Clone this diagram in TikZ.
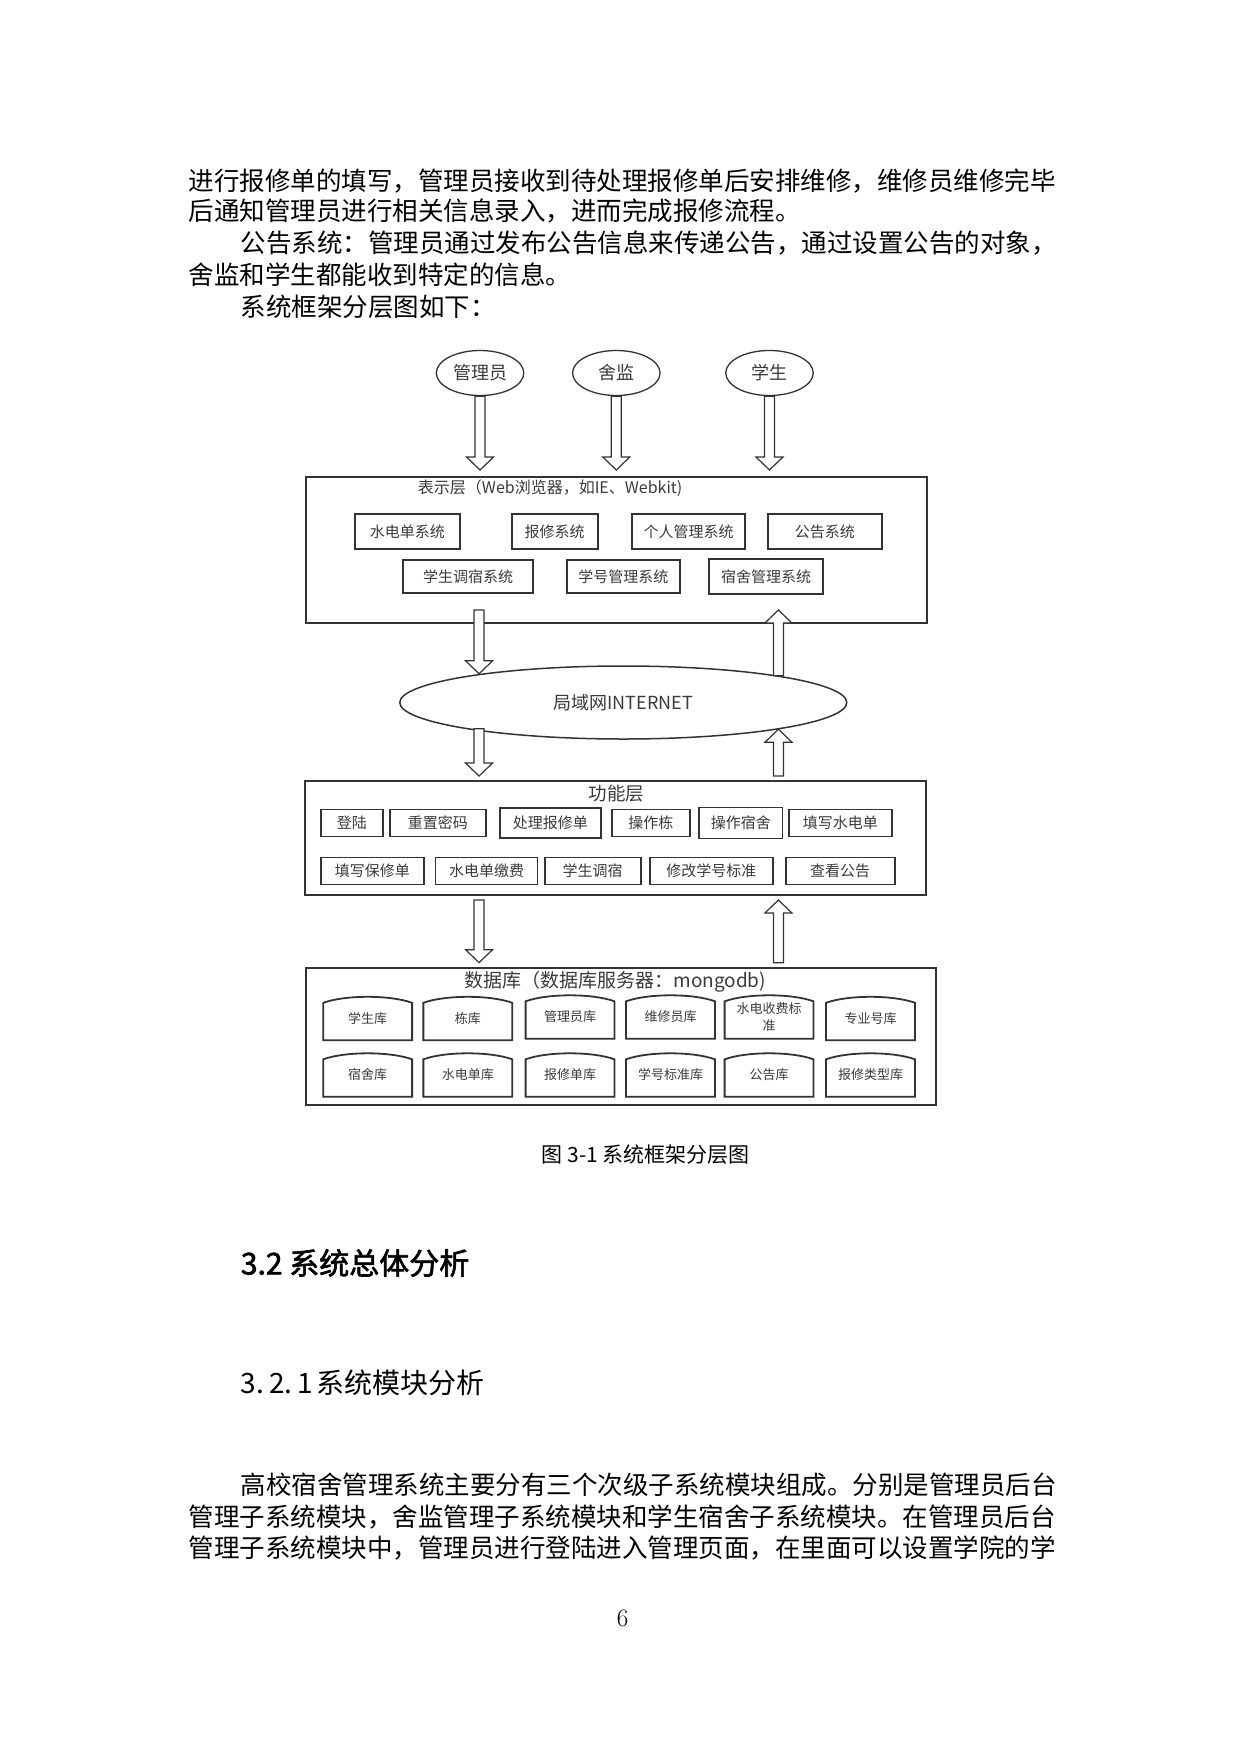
\documentclass[tikz,border=0pt]{standalone}
\usepackage{fontspec}
\newfontfamily\cjk{Noto Sans CJK SC}
\newfontfamily\cjkb[FakeBold=2]{Noto Sans CJK SC}
\usetikzlibrary{shapes.geometric,calc}
\XeTeXlinebreaklocale "zh"
\XeTeXlinebreakskip=0pt plus 2pt

\definecolor{ln}{HTML}{333333}
\definecolor{tx}{HTML}{3A3A3A}

\tikzset{
  user/.style={ellipse, draw=ln, line width=1.3, minimum width=88, minimum height=45, inner sep=0, font=\fontsize{18}{21}\selectfont\cjk, text=tx},
  layer/.style={draw=ln, line width=2, inner sep=0},
  ltitle/.style={inner sep=0, text=tx},
  sysbox/.style={draw=ln, line width=1.8, inner sep=0, minimum height=35, font=\fontsize{15}{18}\selectfont\cjk, text=tx},
  funbox/.style={sysbox, minimum height=27},
  dbcell/.style={inner sep=0, minimum width=89, minimum height=43, font=\fontsize{13}{16.5}\selectfont\cjk, text=tx, align=center},
  dbline/.style={draw=ln, line width=1.8},
  hollow/.style={draw=ln, line width=1.2, fill=white, to path={
      let \p1=(\tikztostart), \p2=(\tikztotarget), \n1={sign(\y2-\y1)} in
      (\x1-5,\y1) -- (\x1-5,\y2-13*\n1) -- (\x1-13.5,\y2-13*\n1) -- (\x1,\y2)
      -- (\x1+13.5,\y2-13*\n1) -- (\x1+5,\y2-13*\n1) -- (\x1+5,\y1) -- cycle}},
  body/.style={anchor=west, inner sep=0, font=\fontsize{25.5}{30}\selectfont\cjk},
}

\begin{document}
\begin{tikzpicture}[x=1pt,y=-1pt]
  \useasboundingbox (0,0) rectangle (1240,1754);

  % text above the figure
  \node[body] (t1) at (188.7,181) {\makebox[870pt][s]{进行报修单的填写，管理员接收到待处理报修单后安排维修，维修员维修完毕}};
  \node[body] (t2) at (188.7,211.5) {后通知管理员进行相关信息录入，进而完成报修流程。};
  \node[body] (t3) at (240.7,243) {\makebox[818pt][s]{公告系统：管理员通过发布公告信息来传递公告，通过设置公告的对象，}};
  \node[body] (t4) at (188.7,275) {舍监和学生都能收到特定的信息。};
  \node[body] (t5) at (240.7,306.5) {系统框架分层图如下：};

  \begin{scope}[x=0.9946pt, xshift=1.65pt, yshift=-2pt]
  % users
  \node[user, minimum width=87.5] (admin) at (481,371) {管理员};
  \node[user, minimum width=87.5] (warden) at (618,371) {舍监};
  \node[user, minimum width=87.5] (student) at (772,371) {学生};
  \end{scope}

  \begin{scope}[x=0.9946pt, xshift=1.65pt]
  % presentation layer
  \node[layer, minimum width=621, minimum height=146] (pres) at (618,550) {};
  \node[ltitle, font=\fontsize{16}{19}\selectfont\cjk] (presT) at (551.5,488) {表示层（Web浏览器，如IE、Webkit)};
  \node[sysbox, minimum width=105] (s1) at (408,531.5) {水电单系统};
  \node[sysbox, minimum width=86] (s2) at (556,531.5) {报修系统};
  \node[sysbox, minimum width=113] (s3) at (690.8,531.5) {个人管理系统};
  \node[sysbox, minimum width=114] (s4) at (827.8,531.5) {公告系统};
  \node[sysbox, minimum width=130, minimum height=33] (s5) at (468.9,576.7) {学生调宿系统};
  \node[sysbox, minimum width=113, minimum height=33] (s6) at (625,576.7) {学号管理系统};
  \node[sysbox, minimum width=113.5] (s7) at (768.6,576.7) {宿舍管理系统};

  % network
  \node[ellipse, draw=ln, line width=1.5, minimum width=447, minimum height=73, inner sep=0,
        font=\fontsize{18}{21}\selectfont\cjk, text=tx] (net) at (625,702.5) {局域网INTERNET};

  % function layer
  \node[layer, minimum width=621, minimum height=114] (func) at (617.5,838) {};
  \node[ltitle, font=\fontsize{18.5}{21}\selectfont\cjk] (funcT) at (618,794) {功能层};
  \node[funbox, minimum width=62] (f1) at (352,823) {登陆};
  \node[funbox, minimum width=96] (f2) at (438.5,823) {重置密码};
  \node[funbox, minimum width=101.3, minimum height=30] (f3) at (551.6,823) {处理报修单};
  \node[funbox, minimum width=78] (f4) at (652.8,823) {操作栋};
  \node[funbox, minimum width=83.2, minimum height=31] (f5) at (743.2,823) {操作宿舍};
  \node[funbox, minimum width=102.5] (f6) at (843.3,823) {填写水电单};
  \node[funbox, minimum width=103.5] (f7) at (372.8,871) {填写保修单};
  \node[funbox, minimum width=102] (f8) at (487.5,871) {水电单缴费};
  \node[funbox, minimum width=96] (f9) at (594.2,871) {学生调宿};
  \node[funbox, minimum width=123.2] (f10) at (713.6,871) {修改学号标准};
  \node[funbox, minimum width=109] (f11) at (843,871) {查看公告};

  % database layer
  \node[layer, minimum width=630.5, minimum height=137.3] (db) at (622.5,1036.3) {};
  \node[ltitle, font=\fontsize{19}{22}\selectfont\cjk] (dbT) at (617,981.7) {数据库（数据库服务器：mongodb)};
  \foreach \nm/\cx/\cy/\lb in {d1/368/1018.5/学生库, d2/468.7/1018.5/栋库, d3/571.5/1017/管理员库,
      d4/672.5/1017/维修员库, d5/771.6/1017/{水电收费标\\准}, d6/873.6/1018.5/专业号库,
      d7/368/1075/宿舍库, d8/468.7/1075/水电单库, d9/571.5/1075/报修单库,
      d10/672.5/1075/学号标准库, d11/771.6/1075/公告库, d12/873.6/1075/报修类型库} {
    \node[dbcell, minimum width=88.5] (\nm) at (\cx,\cy) {\lb};
    \draw[dbline] (\nm.south west) -- ([yshift=-6]\nm.north west)
      .. controls ([xshift=22,yshift=2]\nm.north west) and ([xshift=-22,yshift=2]\nm.north east)
      .. ([yshift=-6]\nm.north east) -- (\nm.south east) -- cycle;
  }

  % hollow arrows
  \coordinate (L) at (480,0);
  \coordinate (R) at (781,0);
  \draw[hollow] (admin.south) to ([yshift=6]admin.south |- pres.north);
  \draw[hollow] (warden.south) to ([yshift=6]warden.south |- pres.north);
  \draw[hollow] (student.south) to ([yshift=6]student.south |- pres.north);
  \draw[hollow] ([yshift=14]L |- pres.south) to ([yshift=-8.5]L |- net.north);
  \draw[hollow] ([yshift=-10.5]R |- net.north) to ([yshift=14]R |- pres.south);
  \draw[hollow] ([yshift=11]L |- net.south) to ([yshift=4]L |- func.north);
  \draw[hollow] ([yshift=4]R |- func.north) to ([yshift=10.5]R |- net.south);
  \draw[hollow] ([yshift=-4]L |- func.south) to ([yshift=4]L |- db.north);
  \draw[hollow] ([yshift=4]R |- db.north) to ([yshift=-4]R |- func.south);
  \end{scope}

  % caption
  \node[inner sep=0, font=\fontsize{21}{24}\selectfont\cjk] (cap) at (645.8,1155) {图 3-1 系统框架分层图};

  % text below the figure
  \node[anchor=west, inner sep=0, font=\fontsize{30}{34}\selectfont\cjkb] (h1) at (240.7,1263) {3.2 系统总体分析};
  \node[anchor=west, inner sep=0, font=\fontsize{28}{32}\selectfont\cjk] (h2) at (240.7,1383) {3.\hspace{5pt}2.\hspace{5pt}1\hspace{3pt}系统模块分析};
  \node[body] (b1) at (240.7,1485) {\makebox[818pt][s]{高校宿舍管理系统主要分有三个次级子系统模块组成。分别是管理员后台}};
  \node[body] (b2) at (188.7,1516.7) {\makebox[870pt][s]{管理子系统模块，舍监管理子系统模块和学生宿舍子系统模块。在管理员后台}};
  \node[body] (b3) at (188.7,1548.3) {\makebox[870pt][s]{管理子系统模块中，管理员进行登陆进入管理页面，在里面可以设置学院的学}};
  \node[inner sep=0, font=\fontsize{25}{28}\selectfont] (pg) at (622.5,1618) {6};
\end{tikzpicture}
\end{document}
